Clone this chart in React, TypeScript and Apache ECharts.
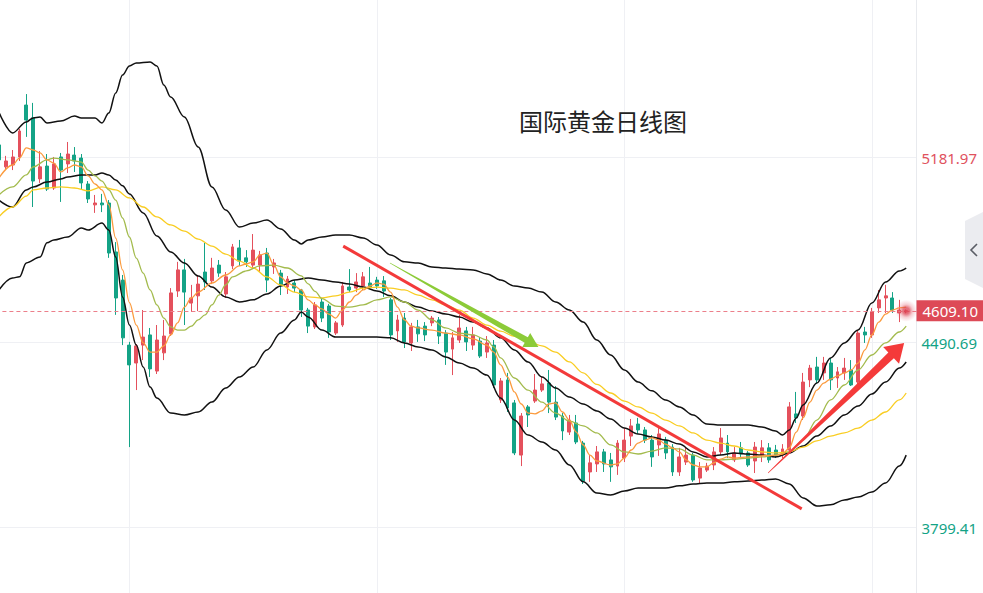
import React, { useEffect, useRef } from "react";
import * as echarts from "echarts";

// [open, close, low, high]
const candles: number[][] = [
  [5229, 5173, 5154, 5247], [5147, 5169, 5135, 5188], [5154, 5184, 5135, 5210], [5184, 5281, 5169, 5289],
  [5378, 5322, 5259, 5419], [5330, 5094, 4997, 5386], [5102, 5147, 5087, 5206], [5150, 5064, 5057, 5195],
  [5068, 5158, 5061, 5184], [5184, 5135, 5016, 5199], [5158, 5195, 5124, 5240], [5191, 5169, 5128, 5221],
  [5180, 5087, 5061, 5195], [5083, 5027, 5012, 5094], [5005, 5012, 4975, 5042], [5012, 5005, 4978, 5046],
  [5012, 4825, 4807, 5023], [4829, 4657, 4594, 4866], [4724, 4508, 4481, 4743], [4481, 4407, 4100, 4493],
  [4414, 4478, 4313, 4485], [4481, 4511, 4425, 4612], [4519, 4392, 4362, 4545], [4384, 4500, 4373, 4556],
  [4452, 4515, 4425, 4575], [4523, 4676, 4515, 4694], [4683, 4762, 4661, 4792], [4762, 4679, 4556, 4803],
  [4638, 4657, 4605, 4706], [4665, 4709, 4608, 4743], [4754, 4717, 4687, 4863], [4721, 4769, 4709, 4807],
  [4780, 4750, 4736, 4799], [4672, 4736, 4657, 4754], [4777, 4848, 4765, 4859], [4844, 4795, 4777, 4874],
  [4807, 4792, 4773, 4836], [4780, 4836, 4765, 4896], [4780, 4818, 4754, 4833], [4825, 4724, 4679, 4844],
  [4773, 4788, 4747, 4803], [4750, 4706, 4668, 4762], [4698, 4728, 4672, 4739], [4713, 4694, 4679, 4724],
  [4687, 4612, 4586, 4691], [4612, 4552, 4526, 4620], [4549, 4631, 4541, 4642], [4642, 4582, 4567, 4657],
  [4627, 4530, 4508, 4635], [4526, 4564, 4519, 4571], [4556, 4702, 4549, 4717], [4698, 4687, 4679, 4765],
  [4694, 4717, 4679, 4750], [4702, 4736, 4687, 4754], [4713, 4698, 4691, 4773], [4724, 4702, 4691, 4736],
  [4721, 4683, 4661, 4739], [4650, 4519, 4500, 4657], [4534, 4575, 4493, 4594], [4582, 4493, 4470, 4601],
  [4489, 4549, 4459, 4564], [4549, 4523, 4493, 4575], [4552, 4519, 4496, 4567], [4564, 4582, 4552, 4590],
  [4575, 4515, 4485, 4586], [4526, 4455, 4407, 4537], [4466, 4508, 4369, 4530], [4500, 4545, 4489, 4594],
  [4534, 4493, 4459, 4549], [4481, 4519, 4463, 4549], [4496, 4440, 4433, 4511], [4455, 4489, 4433, 4515],
  [4481, 4332, 4321, 4500], [4276, 4347, 4265, 4358], [4351, 4246, 4231, 4377], [4265, 4078, 4070, 4276],
  [4070, 4216, 4029, 4227], [4250, 4220, 4175, 4257], [4272, 4313, 4265, 4373], [4313, 4336, 4306, 4362],
  [4339, 4268, 4227, 4388], [4268, 4212, 4201, 4328], [4216, 4160, 4126, 4227], [4156, 4201, 4145, 4220],
  [4190, 4119, 4111, 4220], [4115, 3973, 3962, 4123], [4007, 4041, 3970, 4070], [4037, 4082, 4007, 4104],
  [4082, 4037, 4007, 4093], [4052, 4026, 3970, 4078], [4029, 4115, 3996, 4126], [4059, 4126, 4044, 4171],
  [4141, 4179, 4104, 4205], [4186, 4164, 4149, 4209], [4164, 4126, 4115, 4175], [4126, 4063, 4026, 4145],
  [4108, 4149, 4067, 4171], [4126, 4078, 4055, 4138], [4100, 4007, 3992, 4111], [4007, 4063, 3992, 4097],
  [4044, 4070, 4033, 4100], [4070, 3977, 3970, 4078], [3984, 4022, 3962, 4044], [4014, 4029, 4007, 4041],
  [4033, 4082, 4014, 4100], [4082, 4134, 4070, 4171], [4115, 4082, 4059, 4145], [4052, 4078, 4044, 4100],
  [4097, 4074, 4059, 4119], [4078, 4033, 4026, 4085], [4048, 4100, 4003, 4119], [4070, 4097, 4044, 4126],
  [4097, 4052, 4041, 4115], [4089, 4070, 4059, 4108], [4070, 4093, 4059, 4111], [4089, 4250, 4082, 4268],
  [4224, 4209, 4190, 4306], [4216, 4343, 4201, 4377], [4351, 4395, 4324, 4407], [4399, 4351, 4339, 4437],
  [4377, 4414, 4351, 4437], [4414, 4351, 4313, 4433], [4358, 4381, 4321, 4399], [4377, 4395, 4351, 4433],
  [4388, 4332, 4328, 4425], [4343, 4526, 4332, 4534], [4530, 4519, 4489, 4549], [4519, 4605, 4508, 4620],
  [4620, 4650, 4601, 4687], [4657, 4665, 4601, 4706], [4657, 4612, 4601, 4679], [4601, 4612, 4567, 4650],
  [4605, 4609.1, 4600, 4614],
];

const SLOTS = 134;
const categories = Array.from({ length: SLOTS }, (_, i) => `D${i + 1}`);

const upperBand = [[0,5352],[2,5274],[4,5315],[5,5330],[6,5333],[7,5311],[9,5318],[11,5337],[12,5330],[14,5330],[15,5311],[16,5348],[17,5423],[18,5490],[19,5524],[20,5535],[22,5539],[23,5524],[24,5453],[25,5408],[27,5333],[29,5221],[31,5072],[33,4986],[35,4922],[37,4937],[39,4948],[41,4915],[43,4874],[44,4859],[45,4874],[47,4885],[49,4892],[51,4892],[53,4881],[55,4855],[57,4818],[59,4792],[61,4788],[63,4773],[65,4769],[67,4765],[69,4762],[71,4747],[73,4724],[75,4702],[77,4694],[79,4679],[81,4642],[83,4612],[85,4567],[87,4500],[89,4444],[91,4388],[93,4343],[95,4310],[97,4276],[99,4250],[101,4220],[103,4186],[105,4182],[107,4182],[109,4182],[111,4175],[113,4160],[114,4145],[115,4164],[116,4209],[117,4257],[119,4339],[121,4433],[123,4489],[125,4537],[127,4638],[129,4717],[131,4758],[132,4769]];

const midBand = [[0,5023],[2,4997],[4,5061],[5,5072],[7,5090],[9,5102],[10,5109],[12,5117],[14,5117],[15,5124],[16,5117],[17,5098],[18,5076],[19,5046],[21,4975],[23,4889],[25,4829],[27,4788],[29,4739],[31,4698],[33,4661],[35,4642],[37,4650],[39,4672],[41,4702],[43,4724],[45,4732],[47,4724],[49,4717],[51,4709],[53,4698],[55,4683],[57,4665],[59,4642],[61,4623],[63,4608],[65,4597],[67,4586],[69,4567],[71,4545],[73,4508],[75,4463],[77,4418],[79,4362],[81,4321],[83,4287],[85,4261],[87,4235],[89,4205],[91,4171],[93,4149],[95,4138],[97,4126],[99,4111],[101,4082],[103,4063],[105,4070],[107,4078],[109,4074],[111,4070],[113,4063],[115,4078],[117,4104],[119,4141],[121,4179],[123,4220],[125,4253],[127,4298],[129,4343],[131,4395],[132,4418]];

const lowerBand = [[0,4687],[2,4732],[3,4736],[4,4788],[6,4810],[7,4863],[8,4874],[10,4885],[12,4919],[13,4911],[15,4937],[16,4911],[17,4810],[18,4661],[19,4556],[20,4481],[21,4399],[22,4324],[23,4283],[25,4227],[27,4220],[29,4231],[31,4268],[33,4321],[35,4362],[37,4399],[39,4463],[41,4526],[43,4575],[44,4605],[45,4586],[47,4537],[49,4511],[51,4511],[53,4511],[55,4511],[57,4508],[59,4489],[61,4474],[63,4463],[65,4437],[67,4414],[69,4395],[71,4369],[73,4283],[75,4201],[77,4145],[79,4119],[81,4089],[83,4033],[85,3970],[87,3928],[89,3921],[91,3936],[93,3947],[95,3947],[97,3947],[99,3955],[101,3962],[103,3966],[105,3966],[107,3970],[109,3973],[111,3977],[113,3981],[115,3962],[117,3910],[119,3880],[121,3884],[123,3902],[125,3913],[127,3932],[129,3966],[131,4029],[132,4070]];

const maFast = [[0,5105],[2,5154],[3,5180],[4,5218],[5,5210],[6,5199],[7,5173],[8,5161],[9,5128],[10,5143],[11,5154],[12,5147],[13,5113],[14,5083],[15,5061],[16,5005],[17,4881],[18,4762],[19,4640],[20,4556],[21,4489],[22,4455],[23,4455],[24,4478],[25,4519],[26,4564],[27,4623],[28,4657],[29,4679],[31,4713],[33,4743],[35,4777],[36,4784],[37,4792],[38,4818],[39,4825],[40,4780],[41,4736],[42,4713],[43,4702],[44,4687],[45,4650],[46,4631],[47,4616],[48,4597],[49,4582],[50,4612],[51,4642],[52,4668],[53,4687],[54,4702],[55,4713],[56,4709],[57,4679],[58,4623],[59,4575],[60,4552],[61,4545],[63,4537],[65,4526],[67,4519],[69,4504],[71,4481],[72,4455],[73,4407],[74,4362],[75,4306],[76,4261],[77,4227],[78,4224],[79,4235],[80,4261],[81,4265],[82,4231],[83,4201],[84,4156],[85,4108],[86,4070],[87,4048],[89,4033],[90,4037],[91,4059],[92,4089],[93,4115],[94,4126],[95,4134],[96,4126],[97,4111],[98,4097],[99,4082],[100,4052],[101,4033],[102,4026],[103,4026],[104,4041],[105,4055],[106,4063],[107,4059],[109,4063],[111,4067],[113,4070],[114,4074],[115,4097],[116,4156],[117,4209],[118,4268],[119,4313],[120,4339],[121,4354],[122,4366],[123,4377],[124,4388],[125,4414],[126,4463],[127,4519],[128,4567],[129,4597],[130,4612],[131,4620],[132,4623]];

const maMid = [[0,5042],[2,5072],[4,5117],[5,5147],[7,5173],[8,5180],[10,5173],[12,5165],[13,5135],[14,5113],[15,5094],[16,5061],[17,5023],[18,4956],[19,4885],[20,4806],[21,4750],[22,4687],[23,4631],[24,4582],[25,4549],[26,4537],[27,4537],[28,4552],[29,4575],[30,4594],[31,4631],[32,4668],[33,4706],[34,4736],[36,4758],[38,4777],[40,4780],[42,4769],[44,4740],[45,4710],[46,4682],[47,4655],[49,4627],[51,4623],[53,4631],[55,4650],[57,4661],[59,4642],[61,4612],[63,4575],[65,4545],[67,4526],[69,4519],[71,4500],[72,4474],[73,4433],[75,4358],[77,4313],[79,4268],[81,4227],[83,4197],[85,4179],[87,4153],[89,4108],[91,4082],[93,4074],[95,4085],[97,4097],[99,4093],[101,4070],[103,4052],[105,4052],[107,4055],[109,4059],[111,4063],[113,4070],[115,4082],[117,4126],[119,4201],[121,4276],[123,4332],[125,4388],[127,4444],[129,4489],[131,4530],[132,4552]];

const maSlow = [[0,4960],[2,4997],[4,5038],[5,5061],[7,5068],[9,5072],[11,5068],[13,5057],[15,5072],[17,5061],[19,5031],[21,4997],[23,4960],[25,4930],[27,4907],[29,4877],[31,4851],[33,4821],[35,4795],[37,4769],[39,4736],[41,4706],[43,4679],[45,4661],[47,4657],[49,4665],[51,4679],[53,4694],[55,4698],[57,4694],[59,4687],[61,4668],[63,4650],[65,4631],[67,4612],[69,4582],[71,4556],[73,4533],[75,4514],[77,4496],[79,4478],[81,4455],[83,4418],[85,4377],[87,4334],[89,4302],[91,4272],[93,4250],[95,4227],[97,4201],[99,4179],[101,4153],[103,4126],[105,4115],[107,4104],[109,4089],[111,4082],[113,4078],[115,4082],[117,4100],[119,4123],[121,4141],[123,4153],[125,4171],[127,4201],[129,4231],[131,4276],[132,4302]];

// annotations, in [candle index, price]
const trendLine = [[50.1, 4851], [116.8, 3869]];
const greenArrow = [[56.9, 4788], [78.5, 4474]];
const redArrow = [[111.9, 4003], [131.7, 4489]];

const currentPrice = 4609.1;
const yTicks = [3799.41, 4490.69, 5181.97];
const verticalGridAt = [19, 55, 91, 127];
const title = "国际黄金日线图";

const UP = "#e4505c";
const DOWN = "#14a386";
const NUM_FONT = "'Noto Sans', Roboto, sans-serif";

// the canvas starts 10px left of the page so that the first, half-cut candle fits in the grid
const SHIFT = 10;
const W = 983 + SHIFT;
const H = 593;

function arrowPolygon(s: number[], t: number[], headLen: number, headHalf: number, shaftHalf: number) {
  const dx = t[0] - s[0];
  const dy = t[1] - s[1];
  const len = Math.hypot(dx, dy);
  const ux = dx / len, uy = dy / len;
  const nx = -uy, ny = ux;
  const bx = t[0] - ux * headLen, by = t[1] - uy * headLen;
  return [
    [s[0] + nx * 0.3, s[1] + ny * 0.3],
    [bx + nx * shaftHalf, by + ny * shaftHalf],
    [bx + nx * headHalf, by + ny * headHalf],
    [t[0], t[1]],
    [bx - nx * headHalf, by - ny * headHalf],
    [bx - nx * shaftHalf, by - ny * shaftHalf],
    [s[0] - nx * 0.3, s[1] - ny * 0.3],
  ];
}

const lineSeries = (name: string, data: number[][], color: string, width: number, z = 3) => ({
  name,
  type: "line",
  xAxisIndex: 1,
  yAxisIndex: 0,
  data,
  symbol: "none",
  smooth: 0.35,
  smoothMonotone: "x",
  lineStyle: { color, width },
  z,
  silent: true,
});

export default function App() {
  const ref = useRef<HTMLDivElement>(null);

  useEffect(() => {
    const el = ref.current;
    if (!el) return;
    const chart = echarts.init(el, null, { renderer: "svg", width: W, height: H });

    const option: any = {
      animation: false,
      backgroundColor: "#ffffff",
      grid: { left: SHIFT - 4.6, right: 66.5, top: 0, bottom: 0 },
      xAxis: [
        { type: "category", data: categories, boundaryGap: true, show: false },
        { type: "value", min: -0.5, max: SLOTS - 0.5, show: false },
      ],
      yAxis: {
        type: "value",
        position: "right",
        min: 3554.7,
        max: 5770.5,
        axisLine: { show: true, onZero: false, lineStyle: { color: "#e8eaee", width: 1 } },
        axisTick: { show: false },
        splitLine: { show: false },
        axisLabel: {
          customValues: yTicks,
          formatter: (v: number) => v.toFixed(2),
          color: (v: any) => (Number(v) > currentPrice ? "#e0525e" : "#13a386"),
          fontSize: 15,
          fontFamily: NUM_FONT,
          margin: 5,
        },
      },
      series: [
        {
          type: "line",
          xAxisIndex: 1,
          yAxisIndex: 0,
          data: [],
          z: 0,
          silent: true,
          markLine: {
            silent: true,
            z: 0,
            symbol: "none",
            label: { show: false },
            lineStyle: { color: "#eff0f4", width: 1, type: "solid" },
            data: [
              ...verticalGridAt.map((v) => ({ xAxis: v })),
              ...yTicks.map((v) => ({ yAxis: v })),
            ],
          },
        },
        lineSeries("upper", upperBand, "#111111", 1.5),
        lineSeries("mid", midBand, "#111111", 1.5),
        lineSeries("lower", lowerBand, "#111111", 1.5),
        lineSeries("maSlow", maSlow, "#f9cd22", 1.3),
        lineSeries("maMid", maMid, "#a3bb4d", 1.3),
        lineSeries("maFast", maFast, "#fb9b3e", 1.3),
        {
          type: "candlestick",
          xAxisIndex: 0,
          yAxisIndex: 0,
          data: candles,
          barWidth: 3.4,
          z: 2,
          silent: true,
          itemStyle: {
            color: UP,
            color0: DOWN,
            borderColor: UP,
            borderColor0: DOWN,
            borderWidth: 1,
          },
          markLine: {
            silent: true,
            symbol: "none",
            lineStyle: { color: "#ec7f8a", width: 1, type: [4, 3] },
            label: {
              show: true,
              position: "end",
              distance: 0,
              formatter: currentPrice.toFixed(2),
              color: "#ffffff",
              backgroundColor: "#dd4a57",
              padding: [3, 6, 3, 6],
              fontSize: 15,
              fontFamily: NUM_FONT,
            },
            data: [{ yAxis: currentPrice }],
          },
        },
        {
          ...lineSeries("trend", trendLine, "#f33a3a", 3, 5),
          smooth: false,
        },
        {
          type: "scatter",
          xAxisIndex: 1,
          yAxisIndex: 0,
          data: [[SLOTS - 2, currentPrice]],
          symbolSize: 22,
          z: 6,
          silent: true,
          itemStyle: {
            color: new echarts.graphic.RadialGradient(0.5, 0.5, 0.5, [
              { offset: 0, color: "rgba(220,62,78,1)" },
              { offset: 0.3, color: "rgba(220,62,78,0.9)" },
              { offset: 0.6, color: "rgba(225,90,105,0.35)" },
              { offset: 1, color: "rgba(230,110,125,0)" },
            ]),
          },
        },
      ],
    };

    chart.setOption(option);

    const px = (p: number[]) => chart.convertToPixel({ seriesIndex: 1 }, p) as number[];
    const gS = px(greenArrow[0]);
    const gT = px(greenArrow[1]);
    const rS = px(redArrow[0]);
    const rT = px(redArrow[1]);
    const sx = (pts: number[][]) => pts.map(([x, y]) => [x + SHIFT, y]);

    chart.setOption({
      graphic: [
        {
          type: "text",
          left: 519 + SHIFT,
          top: 108,
          z: 20,
          style: {
            text: title,
            fontSize: 24,
            fontFamily: "'Noto Sans CJK SC', sans-serif",
            fill: "#222222",
          },
        },
        {
          type: "polygon",
          z: 20,
          shape: { points: arrowPolygon(gS, gT, 14, 8, 3.2) },
          style: { fill: "#8ccb38" },
        },
        {
          type: "polygon",
          z: 20,
          shape: { points: arrowPolygon(rS, rT, 18, 11.5, 4) },
          style: { fill: "#f43a3a" },
        },
        {
          type: "polygon",
          z: 20,
          shape: { points: sx([[983, 212], [965, 221], [965, 279], [983, 288]]) },
          style: { fill: "#ebecf0" },
        },
        {
          type: "polyline",
          z: 21,
          shape: { points: sx([[977, 244], [971, 250], [977, 256]]) },
          style: { stroke: "#5a5d66", lineWidth: 1.6, fill: "none" },
        },
      ],
    });

    return () => chart.dispose();
  }, []);

  return (
    <div
      ref={ref}
      style={{ position: "fixed", left: -SHIFT, top: 0, width: W, height: H, background: "#ffffff" }}
    />
  );
}
